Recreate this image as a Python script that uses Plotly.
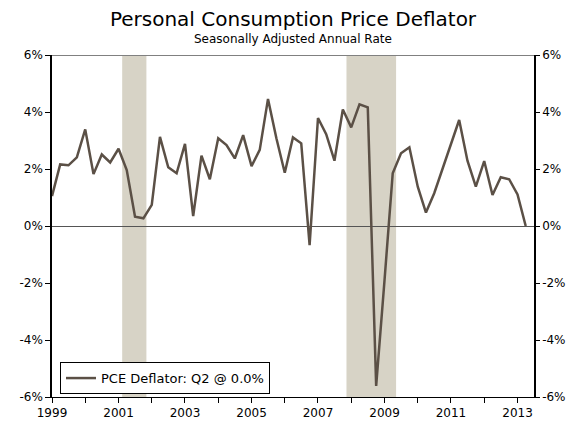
import plotly.graph_objects as go
import pandas as pd

# Quarterly PCE deflator, SAAR (%), 1999Q1 - 2013Q2
pce_values = [
    1.05, 2.16, 2.13, 2.41, 3.39, 1.82, 2.51, 2.23,   # 1999-2000
    2.71, 1.96, 0.33, 0.27, 0.74, 3.13, 2.06, 1.85,   # 2001-2002
    2.88, 0.35, 2.47, 1.64, 3.08, 2.84, 2.37, 3.19,   # 2003-2004
    2.10, 2.67, 4.46, 3.08, 1.87, 3.11, 2.90, -0.67,  # 2005-2006
    3.79, 3.22, 2.29, 4.09, 3.46, 4.27, 4.16, -5.61,  # 2007-2008
    -1.90, 1.85, 2.55, 2.76, 1.38, 0.47, 1.15, 2.02,  # 2009-2010
    2.90, 3.72, 2.29, 1.38, 2.28, 1.09, 1.71, 1.64,   # 2011-2012
    1.11, 0.00,                                       # 2013
]
quarter_dates = pd.date_range("1999-01-01", periods=len(pce_values), freq="QS")

recession_starts = ["2001-02-10", "2007-11-10"]
recession_ends = ["2001-11-03", "2009-05-08"]

year_ticks = [f"{y}-01-01" for y in range(1999, 2014)]
year_labels = [str(y) if (y - 1999) % 2 == 0 else "" for y in range(1999, 2014)]
y_tickvals = [-6, -4, -2, 0, 2, 4, 6]
y_ticktext = ["-6%", "-4%", "-2%", "0%", "2%", "4%", "6%"]

legend_label = "PCE Deflator: Q2 @ 0.0%"
title_text = "Personal Consumption Price Deflator"
subtitle_text = "Seasonally Adjusted Annual Rate"

LINE = "#5b5046"
SHADE = "#d7d3c6"
FONT = "DejaVu Sans"

fig = go.Figure()
fig.add_trace(go.Scatter(
    x=quarter_dates, y=pce_values, mode="lines", name=legend_label,
    line=dict(color=LINE, width=2.5),
))
# invisible twin trace for the right-hand axis
fig.add_trace(go.Scatter(
    x=quarter_dates, y=pce_values, mode="lines", yaxis="y2",
    line=dict(color="rgba(0,0,0,0)", width=0), showlegend=False, hoverinfo="skip",
))

for s, e in zip(recession_starts, recession_ends):
    fig.add_shape(type="rect", xref="x", yref="paper", x0=s, x1=e, y0=0, y1=1,
                  fillcolor=SHADE, line=dict(width=0), layer="below")

# top border line at 6%
fig.add_shape(type="line", xref="paper", yref="y", x0=0, x1=1, y0=6, y1=6,
              line=dict(color="#808080", width=2), layer="below")

axis_font = dict(family=FONT, size=12, color="#000000")

fig.update_layout(
    width=586, height=422,
    margin=dict(l=52, r=52, t=55, b=25, autoexpand=False),
    paper_bgcolor="white", plot_bgcolor="white",
    font=dict(family=FONT, color="#000000"),
    title=dict(text=title_text, x=0.5, xanchor="center", y=0.971, yanchor="top",
               font=dict(family=FONT, size=20, color="#000000")),
    annotations=[dict(text=subtitle_text, xref="paper", yref="paper", x=0.5, y=1.0,
                      xanchor="center", yanchor="bottom", showarrow=False, yshift=7,
                      font=dict(family=FONT, size=12, color="#000000"))],
    xaxis=dict(
        type="date", range=["1999-01-01", "2013-07-01"],
        tickvals=year_ticks, ticktext=year_labels,
        ticks="outside", ticklen=5, tickcolor="#000000",
        showline=True, linecolor="#000000", linewidth=1,
        showgrid=False, zeroline=False, tickfont=axis_font, automargin=False,
    ),
    yaxis=dict(
        range=[-6, 6], tickvals=y_tickvals, ticktext=y_ticktext,
        ticks="outside", ticklen=5, tickcolor="#000000",
        showline=True, linecolor="#000000", linewidth=1.5,
        showgrid=False, zeroline=True, zerolinecolor="#555555", zerolinewidth=1,
        tickfont=axis_font, automargin=False,
    ),
    yaxis2=dict(
        range=[-6, 6], tickvals=y_tickvals, ticktext=y_ticktext,
        overlaying="y", side="right",
        ticks="outside", ticklen=4, tickcolor="#000000",
        showline=True, linecolor="#000000", linewidth=1.5,
        showgrid=False, zeroline=False, tickfont=axis_font, automargin=False,
    ),
    legend=dict(
        x=0.0166, y=0.102, xanchor="left", yanchor="top",
        bgcolor="white", bordercolor="#000000", borderwidth=1,
        font=dict(family=FONT, size=13, color="#000000"),
        itemwidth=30, tracegroupgap=0,
    ),
    showlegend=True,
)

fig.write_html("out.html", config={"displayModeBar": False},
               post_script="document.body.style.margin='0';")
